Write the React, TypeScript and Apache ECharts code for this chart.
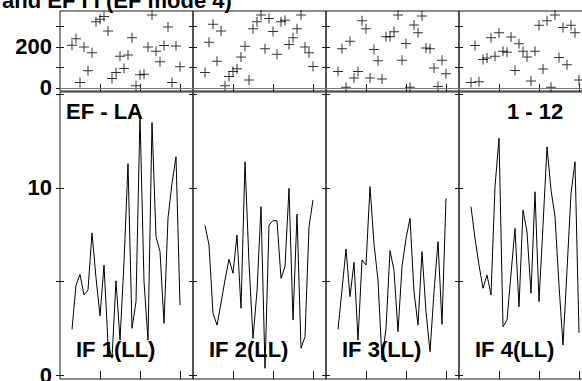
import React, { useEffect, useRef } from "react";
import * as echarts from "echarts";

const X_DAYS = [3, 4, 5, 6, 7, 8, 9, 10, 11, 12, 13, 14, 15, 16, 17, 18, 19, 20, 21, 22, 23, 24, 25, 26, 27, 28, 29, 30];

const SCATTER_1 = [208, 240, 26, 199, 84, 171, 322, 335, 348, 277, 46, 75, 154, 95, 160, 245, 10, 64, 67, 199, 356, 179, 128, 207, 297, 26, 204, 103];
const SCATTER_2 = [75, 223, 310, 130, 277, 10, 56, 80, 94, 151, 203, 39, 289, 322, 356, 191, 339, 275, 164, 322, 330, 212, 245, 289, 356, 199, 171, 105];
const SCATTER_3 = [80, 191, 3, 228, 48, 80, 327, 289, 48, 187, 133, 43, 250, 250, 274, 356, 135, 217, 3, 307, 269, 351, 195, 191, 97, 7, 135, 69];
const SCATTER_4 = [26, 207, 30, 138, 146, 245, 154, 269, 179, 174, 248, 85, 215, 179, 151, 34, 179, 305, 92, 327, 3, 355, 148, 294, 113, 305, 269, 39];

const LINE_1 = [2.44, 4.81, 5.38, 4.28, 4.55, 7.6, 5.2, 3.17, 5.88, 1.7, 0.9, 5.04, 1.87, 6.0, 11.3, 2.5, 3.92, 13.9, 5.0, 1.87, 13.5, 7.4, 6.6, 2.76, 8.4, 10.25, 11.67, 3.74];
const LINE_2 = [8.0, 6.95, 3.3, 2.67, 3.85, 5.08, 6.19, 5.44, 7.49, 3.57, 11.4, 6.0, 1.96, 4.5, 9.0, 0.36, 8.02, 8.25, 8.25, 5.17, 5.8, 9.98, 2.94, 8.6, 1.43, 2.05, 7.93, 9.36];
const LINE_3 = [2.44, 4.55, 6.74, 4.19, 6.03, 1.87, 6.15, 5.88, 10.07, 7.0, 5.08, 0.8, 2.5, 6.65, 5.61, 2.32, 5.8, 7.3, 8.38, 4.45, 2.67, 6.6, 3.39, 1.25, 4.45, 7.13, 2.71, 9.45];
const LINE_4 = [9.0, 7.3, 5.88, 4.64, 5.35, 4.28, 10.07, 12.66, 2.58, 2.94, 5.4, 7.84, 3.65, 8.82, 7.66, 4.37, 9.8, 3.92, 8.0, 12.2, 9.9, 8.47, 4.8, 1.6, 5.6, 9.7, 11.4, 2.25];

const PANEL_LABELS = ["IF 1(LL)", "IF 2(LL)", "IF 3(LL)", "IF 4(LL)"];
const TOP_TICKS = [0, 100, 200, 300];
const TOP_LABELS = [0, 200];
const BOTTOM_TICKS = [0, 5, 10, 15];
const BOTTOM_LABELS = [0, 10];
const X_TICKS = [10, 20, 30];
const TITLE = "and EF I I (EF mode 4)";
const CORNER_LEFT = "EF - LA";
const CORNER_RIGHT = "1 - 12";

const SCATTERS = [SCATTER_1, SCATTER_2, SCATTER_3, SCATTER_4];
const LINES = [LINE_1, LINE_2, LINE_3, LINE_4];

const FONT = "'Liberation Sans', Arial, Helvetica, sans-serif";
const PLUS = "path://M0,4.5H10V5.5H0Z M4.5,0H5.5V10H4.5Z";

export default function App() {
  const ref = useRef<HTMLDivElement>(null);
  useEffect(() => {
    document.body.style.margin = "0";
    if (!ref.current) return;
    const chart = echarts.init(ref.current, null, { renderer: "svg" });
    const panelLeft = 60;
    const panelW = 133;
    const grids: any[] = [];
    const xAxes: any[] = [];
    const yAxes: any[] = [];
    const series: any[] = [];
    const graphics: any[] = [];
    const lineColor = "#1a1a1a";

    const addGrid = (g: number, left: number, top: number, height: number, ymin: number, ymax: number, ticks: number[], labels: number[], showLabels: boolean, xTickLen: number) => {
      grids.push({
        left, top, width: panelW, height, show: true, borderColor: lineColor, borderWidth: 1,
        backgroundColor: "transparent", containLabel: false, outerBoundsMode: "none",
      });
      const xBase = {
        type: "value", gridIndex: g, min: 0, max: 33.25,
        axisLine: { show: false }, splitLine: { show: false },
        axisLabel: { show: false },
        axisTick: { show: true, inside: true, length: xTickLen, lineStyle: { color: lineColor, width: 1 }, customValues: X_TICKS },
      };
      xAxes.push({ ...xBase, position: "bottom" });
      xAxes.push({ ...xBase, position: "top" });
      const yBase = {
        type: "value", gridIndex: g, min: ymin, max: ymax,
        axisLine: { show: false }, splitLine: { show: false },
        axisTick: { show: true, inside: true, length: 4, lineStyle: { color: lineColor, width: 1 }, customValues: ticks },
      };
      yAxes.push({
        ...yBase, position: "left",
        axisLabel: { show: showLabels, customValues: labels, color: "#000", fontSize: 22, fontWeight: "bold", fontFamily: FONT, margin: 8 },
      });
      yAxes.push({ ...yBase, position: "right", axisLabel: { show: false } });
    };

    for (let i = 0; i < 4; i++) {
      const left = panelLeft + i * panelW;
      const gTop = i;
      addGrid(gTop, left, 11, 80, -15, 375, TOP_TICKS, TOP_LABELS, i === 0, 4);
      series.push({
        type: "scatter",
        xAxisIndex: gTop * 2, yAxisIndex: gTop * 2,
        symbol: PLUS, symbolSize: 10,
        itemStyle: { color: "#000" },
        data: X_DAYS.map((x, k) => [x, SCATTERS[i][k]]),
        markLine: {
          silent: true, symbol: "none", label: { show: false },
          lineStyle: { color: "#777", width: 1, type: "solid" },
          data: [{ yAxis: 0 }],
        },
      });
    }
    for (let i = 0; i < 4; i++) {
      const left = panelLeft + i * panelW;
      const gBot = 4 + i;
      addGrid(gBot, left, 92, 287, -0.21, 15.13, BOTTOM_TICKS, BOTTOM_LABELS, i === 0, 4);
      series.push({
        type: "line",
        xAxisIndex: gBot * 2, yAxisIndex: gBot * 2,
        symbol: "none",
        lineStyle: { color: "#000", width: 1 },
        data: X_DAYS.map((x, k) => [x, LINES[i][k]]),
      });
      graphics.push({
        type: "text", left: left + 16, top: 338, z: 100,
        style: { text: PANEL_LABELS[i], fill: "#000", font: `bold 22px ${FONT}` },
      });
    }
    graphics.push({
      type: "text", left: 66, top: 100, z: 100,
      style: { text: CORNER_LEFT, fill: "#000", font: `bold 22px ${FONT}` },
    });
    graphics.push({
      type: "text", left: 507, top: 100, z: 100,
      style: { text: CORNER_RIGHT, fill: "#000", font: `bold 22px ${FONT}` },
    });
    graphics.push({
      type: "text", left: 2, top: -11, z: 100,
      style: { text: TITLE, fill: "#000", font: `bold 22px ${FONT}` },
    });

    chart.setOption({
      animation: false,
      backgroundColor: "#fff",
      grid: grids,
      xAxis: xAxes,
      yAxis: yAxes,
      series,
      graphic: graphics,
    });
    return () => chart.dispose();
  }, []);
  return <div ref={ref} style={{ width: 582, height: 381, position: "absolute", left: 0, top: 0 }} />;
}
